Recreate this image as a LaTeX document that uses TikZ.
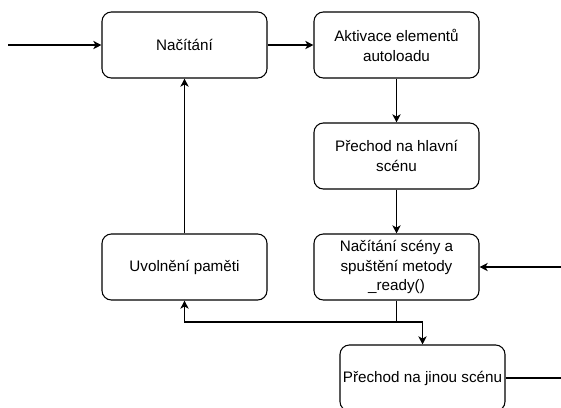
\documentclass[tikz,border=0pt]{standalone}
\usepackage{fontspec}
\setmainfont{Liberation Sans}
\usetikzlibrary{arrows.meta}

\begin{document}
\begin{tikzpicture}[x=0.03cm, y=-0.03cm,
  stepbox/.style={rectangle, draw, line width=0.9pt, rounded corners=8pt,
    minimum width=4.95cm, minimum height=1.98cm, inner xsep=1pt,
    align=center, font=\fontsize{13}{17}\selectfont},
  link/.style={line width=0.9pt, -{Stealth[length=7pt, width=7pt, inset=2pt]}}]
  \useasboundingbox (0,0) rectangle (561,407);
  \node[stepbox] (load) at (184.5,45) {Načítání};
  \node[stepbox] (autoload) at (396.5,45) {Aktivace elementů\\autoloadu};
  \node[stepbox] (mainscene) at (396.5,156) {Přechod na hlavní\\scénu};
  \node[stepbox] (sceneload) at (396.5,267) {Načítání scény a\\spuštění metody\\\_ready()};
  \node[stepbox] (free) at (184.5,267) {Uvolnění paměti};
  \node[stepbox] (otherscene) at (422.5,378) {Přechod na jinou scénu};
  \coordinate (start) at (8,45);
  \coordinate (split) at (396.5,322);
  \coordinate (loop) at (580,330);
  \draw[link] (start) -- (load);
  \draw[link] (load) -- (autoload);
  \draw[link] (autoload) -- (mainscene);
  \draw[link] (mainscene) -- (sceneload);
  \draw[link] (free) -- (load);
  \draw[link] (sceneload.south) -- (split) -| (free.south);
  \draw[link] (split) -| (otherscene.north);
  \draw[link] (otherscene.east) -| (loop) |- (sceneload.east);
\end{tikzpicture}
\end{document}
